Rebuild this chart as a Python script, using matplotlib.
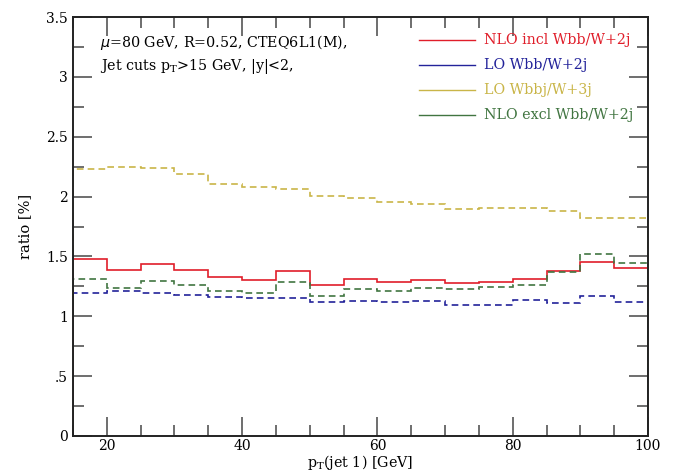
import numpy as np
import matplotlib
matplotlib.use("Agg")
import matplotlib.pyplot as plt
from matplotlib.ticker import MultipleLocator

plt.rcParams["font.family"] = ["DejaVu Serif"]

# pT(jet 1) bin edges, 5 GeV bins
edges = np.arange(15, 101, 5)

nlo_incl = [1.476, 1.387, 1.434, 1.387, 1.326, 1.301, 1.376, 1.264, 1.308,
            1.287, 1.303, 1.281, 1.289, 1.312, 1.378, 1.451, 1.403]
lo_wbb = [1.197, 1.211, 1.197, 1.181, 1.161, 1.150, 1.153, 1.122, 1.130,
          1.117, 1.125, 1.097, 1.097, 1.134, 1.114, 1.167, 1.122]
lo_wbbj = [2.230, 2.245, 2.236, 2.186, 2.108, 2.078, 2.061, 2.005, 1.986,
           1.958, 1.941, 1.896, 1.907, 1.907, 1.883, 1.824, 1.821]
nlo_excl = [1.309, 1.239, 1.295, 1.261, 1.209, 1.192, 1.284, 1.170, 1.228,
            1.211, 1.236, 1.225, 1.245, 1.264, 1.370, 1.523, 1.448]

series = [
    ("NLO incl Wbb/W+2j", nlo_incl, "#e01e2a", "-"),
    ("LO Wbb/W+2j", lo_wbb, "#23239a", (0, (4, 2.5))),
    ("LO Wbbj/W+3j", lo_wbbj, "#c9b548", (0, (4, 2.5))),
    ("NLO excl Wbb/W+2j", nlo_excl, "#417541", (0, (4, 2.5))),
]

fig = plt.figure(figsize=(6.86, 4.74), dpi=100)
ax = fig.add_axes([0.1064, 0.0802, 0.8382, 0.8839])

for label, vals, color, ls in series:
    ax.stairs(vals, edges, color=color, linestyle=ls, linewidth=1.2)

ax.set_xlim(15, 100)
ax.set_ylim(0, 3.5)

ax.xaxis.set_major_locator(MultipleLocator(20))
ax.xaxis.set_minor_locator(MultipleLocator(5))
ax.yaxis.set_major_locator(MultipleLocator(0.5))
ax.yaxis.set_minor_locator(MultipleLocator(0.25))
ax.tick_params(which="both", direction="in", top=True, right=True,
               color="#555555", labelsize=10)
ax.tick_params(axis="x", which="major", pad=2)
ax.tick_params(which="major", length=14, width=1.2)
ax.tick_params(which="minor", length=8, width=1.2)
ax.set_yticks(np.arange(0, 3.51, 0.5))
ax.set_yticklabels(["0", ".5", "1", "1.5", "2", "2.5", "3", "3.5"])
for sp in ax.spines.values():
    sp.set_linewidth(1.4)
    sp.set_color("#222222")

ax.set_xlabel(r"p$_\mathregular{T}$(jet 1) [GeV]", fontsize=10.3, labelpad=0)
ax.set_ylabel("ratio [%]", fontsize=10.5, labelpad=10)

ax.text(0.047, 0.940, r"$\mu$=80 GeV, R=0.52, CTEQ6L1(M),",
        transform=ax.transAxes, fontsize=10.3, va="center")
ax.text(0.047, 0.882, r"Jet cuts p$_\mathregular{T}$>15 GeV, |y|<2,",
        transform=ax.transAxes, fontsize=10.3, va="center")

# legend drawn by hand: short line followed by coloured text
for i, (label, vals, color, ls) in enumerate(series):
    y = 0.945 - i * 0.060
    ax.plot([0.602, 0.700], [y, y], transform=ax.transAxes,
            color=color, linewidth=1.0)
    ax.text(0.714, y, label, transform=ax.transAxes, color=color,
            fontsize=10.3, va="center")

fig.savefig("out.png", dpi=100)
